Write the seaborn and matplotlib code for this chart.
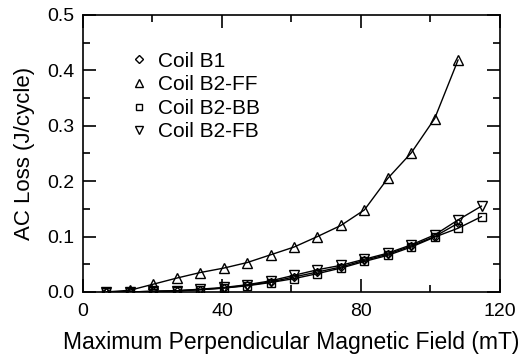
import matplotlib
matplotlib.use("Agg")
import matplotlib.pyplot as plt
from matplotlib.lines import Line2D
from matplotlib.ticker import MultipleLocator, FormatStrFormatter
import seaborn as sns
import pandas as pd

sns.set_style("ticks")
plt.rcParams['font.family'] = ['Liberation Sans', 'DejaVu Sans']
plt.rcParams['text.color'] = 'black'
plt.rcParams['axes.labelcolor'] = 'black'

field = [6.75, 13.5, 20.25, 27, 33.75, 40.5, 47.25, 54, 60.75, 67.5,
         74.25, 81, 87.75, 94.5, 101.25, 108, 114.75]
loss_b1 = [0.000, 0.000, 0.001, 0.002, 0.004, 0.007, 0.012, 0.018, 0.027,
           0.036, 0.045, 0.057, 0.068, 0.083, 0.100, 0.124]
loss_ff = [0.000, 0.003, 0.014, 0.025, 0.035, 0.043, 0.053, 0.067, 0.081,
           0.100, 0.120, 0.148, 0.205, 0.251, 0.313, 0.419]
loss_bb = [0.000, 0.000, 0.001, 0.002, 0.004, 0.007, 0.011, 0.017, 0.024,
           0.033, 0.043, 0.055, 0.066, 0.081, 0.099, 0.115, 0.136]
loss_fb = [0.000, 0.000, 0.001, 0.002, 0.005, 0.008, 0.013, 0.020, 0.030,
           0.040, 0.048, 0.059, 0.070, 0.085, 0.103, 0.130, 0.155]

series = [
    ("Coil B1", loss_b1, "D", 4.5),
    ("Coil B2-FF", loss_ff, "^", 7.5),
    ("Coil B2-BB", loss_bb, "s", 5.5),
    ("Coil B2-FB", loss_fb, "v", 7.5),
]

fig = plt.figure(figsize=(5.19, 3.56), dpi=100)
ax = fig.add_axes([0.16, 0.18, 0.803, 0.778])

handles = []
for name, vals, mk, ms in series:
    df = pd.DataFrame({"x": field[:len(vals)], "y": vals})
    sns.lineplot(data=df, x="x", y="y", ax=ax, color="black", lw=1.0,
                 marker=mk, markersize=ms, markerfacecolor="none",
                 markeredgecolor="black", markeredgewidth=1.0)
    handles.append(Line2D([], [], linestyle="none", marker=mk, markersize=ms * 0.85,
                          markerfacecolor="none", markeredgecolor="black",
                          markeredgewidth=1.0, label=name))

ax.set_xlim(0, 120)
ax.set_ylim(0, 0.5)
ax.xaxis.set_major_locator(MultipleLocator(40))
ax.xaxis.set_minor_locator(MultipleLocator(20))
ax.yaxis.set_major_locator(MultipleLocator(0.1))
ax.yaxis.set_minor_locator(MultipleLocator(0.05))
ax.yaxis.set_major_formatter(FormatStrFormatter("%.1f"))
ax.tick_params(which="both", direction="in", top=True, right=True,
               width=1.2, labelsize=14, colors="black")
ax.tick_params(which="major", length=9.5)
ax.tick_params(which="minor", length=5)
ax.tick_params(axis="x", which="major", pad=8)
ax.tick_params(axis="y", which="major", pad=6)
for s in ax.spines.values():
    s.set_linewidth(1.2)
    s.set_color("black")

ax.set_xlabel("Maximum Perpendicular Magnetic Field (mT)", fontsize=16.5,
              labelpad=8, color="black")
ax.set_ylabel("AC Loss (J/cycle)", fontsize=16, labelpad=9, color="black")

ax.legend(handles=handles, loc="upper left", bbox_to_anchor=(0.065, 0.935),
          frameon=False, fontsize=15, handletextpad=0.4, labelspacing=0.22,
          handlelength=1.0, labelcolor="black")

fig.savefig("out.png", dpi=100)
